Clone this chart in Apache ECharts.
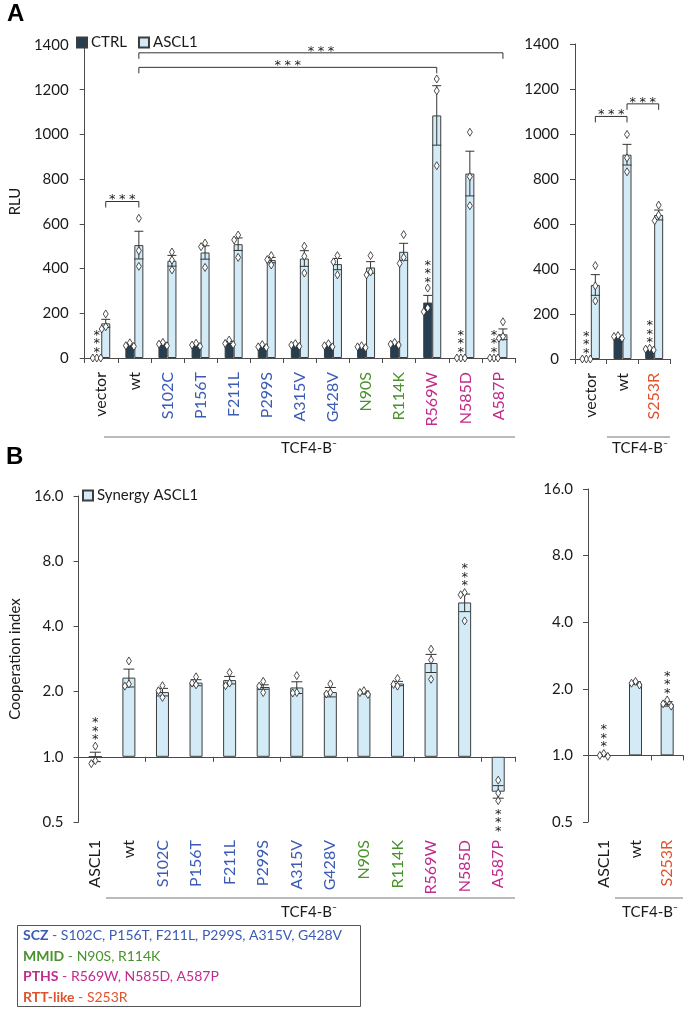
<!DOCTYPE html>
<html><head><meta charset="utf-8">
<script src="https://cdn.jsdelivr.net/npm/echarts@6/dist/echarts.min.js"></script>
<style>html,body{margin:0;padding:0;background:#fff}#c{width:690px;height:1011px}</style>
</head><body><div id="c"></div><script>
// ---------- categories ----------
const catsA  = ['vector','wt','S102C','P156T','F211L','P299S','A315V','G428V','N90S','R114K','R569W','N585D','A587P'];
const catsA2 = ['vector','wt','S253R'];
const catsB  = ['ASCL1','wt','S102C','P156T','F211L','P299S','A315V','G428V','N90S','R114K','R569W','N585D','A587P'];
const catsB2 = ['ASCL1','wt','S253R'];
// mutation groups
const sczMut  = ['S102C','P156T','F211L','P299S','A315V','G428V'];
const mmidMut = ['N90S','R114K'];
const pthsMut = ['R569W','N585D','A587P'];
const rttMut  = ['S253R'];
// ---------- panel A (RLU) ----------
const ctrlA     = [0,58,62,58,68,52,58,56,50,63,248,0,0];
const ctrlA_se  = [0,5,5,4,6,4,4,4,3,4,32,0,0];
const ctrlA_pts = [[0,0,0],[68,55,52],[70,62,55],[66,58,52],[80,65,60],[60,50,47],[64,58,52],[64,55,50],[55,50,46],[70,62,58],[313,224,207],[0,0,0],[0,0,0]];
const ctrlA_sig = [1,0,0,0,0,0,0,0,0,0,1,1,1];
const asclA     = [155,505,435,472,509,438,445,420,405,475,1085,825,106];
const asclA_se  = [18,62,24,30,28,12,35,25,26,38,133,100,24];
const asclA_pts = [[197,140,130],[625,480,410],[474,438,394],[514,498,405],[550,528,450],[458,440,416],[500,455,380],[458,430,372],[458,385,372],[552,450,423],[1248,1195,860],[1010,811,681],[162,96,88]];
const asclA_sig = [0,0,0,0,0,0,0,0,0,0,0,0,0];
const ctrlA2     = [0,97,44];
const ctrlA2_se  = [0,4,3];
const ctrlA2_pts = [[0,0,0],[104,100,92],[48,44,40]];
const ctrlA2_sig = [1,0,1];
const asclA2     = [329,908,640];
const asclA2_se  = [46,46,22];
const asclA2_pts = [[415,325,258],[998,894,832],[684,640,615]];
const asclA2_sig = [0,0,0];
// significance brackets: [fromCategory, fromSeries(0 CTRL / 1 ASCL1), toCategory, toSeries, level]
const bracketsA  = [[0,1,1,1,700],[1,1,10,1,1300],[1,1,12,1,1365]];
const bracketsA2 = [[0,1,1,1,1078],[1,1,2,1,1134]];
// ---------- panel B (cooperation index) ----------
const synB     = [1.0,2.32,1.99,2.2,2.26,2.1,2.09,1.99,1.98,2.18,2.71,5.16,0.69];
const synB_se  = [0.05,0.22,0.08,0.07,0.09,0.05,0.13,0.1,0.03,0.05,0.26,0.48,0.046];
const synB_pts = [[1.12,0.96,0.93],[2.77,2.17,2.12],[2.13,2.02,1.88],[2.34,2.19,2.15],[2.45,2.19,2.13],[2.23,2.12,1.98],[2.37,1.98,1.97],[2.17,1.98,1.95],[2.02,1.98,1.94],[2.3,2.16,2.12],[3.14,2.8,2.28],[5.73,5.6,4.24],[0.78,0.68,0.627]];
const synB_sig = [1,0,0,0,0,0,0,0,0,0,0,1,-1];
const synB2     = [1.0,2.12,1.71];
const synB2_se  = [0.01,0.03,0.04];
const synB2_pts = [[1.02,1.0,0.99],[2.16,2.12,2.08],[1.78,1.71,1.67]];
const synB2_sig = [1,0,1];

// ---------- styling ----------
const FONT = 'Lato';
const STAR_FONT = 'DejaVu Sans';
const C_CTRL = '#263e51', C_ASCL = '#d3ebf7', C_EDGE = '#3d3d3d';
const groupColor = {SCZ:'#3b5bb5', MMID:'#4a922c', PTHS:'#c12b8d', RTT:'#e0522b'};
const groupOf = {};
sczMut.forEach(m=>groupOf[m]='SCZ'); mmidMut.forEach(m=>groupOf[m]='MMID');
pthsMut.forEach(m=>groupOf[m]='PTHS'); rttMut.forEach(m=>groupOf[m]='RTT');
const labelColor = v => groupOf[v] ? groupColor[groupOf[v]] : '#1a1a1a';

const BW_A = 9, BW_B = 13;
const gA  = {left:71, top:45, width:444, height:313};
const gA2 = {left:575, top:44, width:95, height:315};
const gB  = {left:72, top:496, width:443, height:326};
const gB2 = {left:588, top:489, width:95, height:333};
const LOG_MIN = 0.5, LOG_MAX = 16;
const oneFrac = (Math.log2(1)-Math.log2(LOG_MIN))/(Math.log2(LOG_MAX)-Math.log2(LOG_MIN));

function star(x, yc){
  return {type:'text', x:x, y:yc+3.5, style:{text:'*', fontSize:13, fontFamily:STAR_FONT, fill:'#222', align:'center', verticalAlign:'middle'}};
}
function decor(mean, se, pts, sig, xShift, capW, starGap){
  return function(params, api){
    const i = api.value(0);
    const m = mean[i];
    const c = api.coord([i, m]);
    const x = c[0] + xShift;
    const kids = [];
    const ls = {stroke:'#333', lineWidth:1};
    let topY = Infinity, botY = -Infinity;
    if (se[i] > 0){
      const yt = api.coord([i, m+se[i]])[1], yb = api.coord([i, m-se[i]])[1];
      kids.push({type:'line', shape:{x1:x,y1:yt,x2:x,y2:yb}, style:ls});
      kids.push({type:'line', shape:{x1:x-capW/2,y1:yt,x2:x+capW/2,y2:yt}, style:ls});
      kids.push({type:'line', shape:{x1:x-capW/2,y1:yb,x2:x+capW/2,y2:yb}, style:ls});
      topY = Math.min(topY, yt); botY = Math.max(botY, yb);
    }
    const ys = pts[i].map(v=>api.coord([i, v])[1]).sort((a,b)=>a-b);
    const placed = [], dx = 4, dh = 7;
    ys.forEach(y=>{
      for (const o of [0,-1,1,-2,2]){
        const px = x + o*dx;
        if (!placed.some(p=>Math.abs(p[0]-px) < dx*0.9 && Math.abs(p[1]-y) < dh)){ placed.push([px,y]); break; }
      }
    });
    placed.forEach(p=>{
      topY = Math.min(topY, p[1]); botY = Math.max(botY, p[1]);
      kids.push({type:'polygon', shape:{points:[[p[0],p[1]-4],[p[0]+2.5,p[1]],[p[0],p[1]+4],[p[0]-2.5,p[1]]]}, style:{fill:'#fff', stroke:'#222', lineWidth:0.8}});
    });
    if (sig[i] === 1){
      for (let k=0;k<3;k++) kids.push(star(x, topY - starGap - k*8.5));
    } else if (sig[i] === -1){
      for (let k=0;k<3;k++) kids.push(star(x, botY + starGap + k*8.5));
    }
    return {type:'group', children:kids};
  };
}
function bracketRender(list, bw){
  return function(params, api){
    const b = list[api.value(0)];
    const off = s => (s===0 ? -bw/2 : bw/2);
    const x1 = api.coord([b[0], b[4]])[0] + off(b[1]);
    const x2 = api.coord([b[2], b[4]])[0] + off(b[3]);
    const y = api.coord([b[0], b[4]])[1];
    const kids = [{type:'polyline', shape:{points:[[x1,y+6],[x1,y],[x2,y],[x2,y+6]]}, style:{stroke:'#333', lineWidth:1, fill:null}}];
    const xm = (x1+x2)/2;
    [-10,0,10].forEach(d=>kids.push(star(xm+d, y-5)));
    return {type:'group', children:kids};
  };
}

const axisLineStyle = {color:'#4a4a4a', width:1};
function catAxis(grid, data, opt){
  return Object.assign({
    type:'category', gridIndex:grid, data:data, position:'bottom',
    axisLine:{show:true, onZero:false, lineStyle:axisLineStyle},
    axisTick:{show:true, length:5, lineStyle:axisLineStyle},
    axisLabel:{show:true, rotate:90, margin:14, fontSize:16, fontFamily:FONT, color:labelColor},
    splitLine:{show:false}
  }, opt||{});
}
function linAxis(grid, name){
  return {type:'value', gridIndex:grid, min:0, max:1400, interval:200,
    name:name||'', nameLocation:'middle', nameRotate:90, nameGap:48,
    nameTextStyle:{fontSize:15, fontFamily:FONT, color:'#1a1a1a'},
    axisLine:{show:true, lineStyle:axisLineStyle}, axisTick:{show:true, length:5, lineStyle:axisLineStyle},
    axisLabel:{fontSize:15, fontFamily:FONT, color:'#1a1a1a', margin:16, formatter:v=>String(v)}, splitLine:{show:false}};
}
function logAxis(grid, name){
  return {type:'log', logBase:2, gridIndex:grid, min:LOG_MIN, max:LOG_MAX,
    name:name||'', nameLocation:'middle', nameRotate:90, nameGap:47,
    nameTextStyle:{fontSize:15, fontFamily:FONT, color:'#1a1a1a'},
    axisLine:{show:true, lineStyle:axisLineStyle}, axisTick:{show:true, length:5, lineStyle:axisLineStyle},
    axisLabel:{fontSize:15, fontFamily:FONT, color:'#1a1a1a', margin:15, formatter:v=>Number(v).toFixed(1)}, splitLine:{show:false}};
}

const barStyle = col => ({color:col, borderColor:C_EDGE, borderWidth:1});
const idx = arr => arr.map((_,i)=>[i]);

const option = {
  animation:false,
  textStyle:{fontFamily:FONT},
  grid:[gA, gA2, gB, gB2],
  legend:[
    {data:['CTRL','ASCL1'], left:71, top:30, itemWidth:10, itemHeight:10, itemGap:11, selectedMode:false, icon:'rect',
     textStyle:{fontSize:15, fontFamily:FONT, color:'#1a1a1a', padding:[0,0,0,-1]}},
    {data:['Synergy ASCL1'], left:77, top:483, itemWidth:10, itemHeight:10, selectedMode:false, icon:'rect',
     textStyle:{fontSize:15, fontFamily:FONT, color:'#1a1a1a', padding:[0,0,0,-1]}}
  ],
  xAxis:[
    catAxis(0, catsA),
    catAxis(1, catsA2),
    catAxis(2, catsB, {offset:-gB.height*oneFrac, axisLabel:{show:false}}),
    catAxis(2, catsB, {axisLine:{show:false}, axisTick:{show:false}, axisLabel:{show:true, rotate:90, margin:18, fontSize:16, fontFamily:FONT, color:labelColor}}),
    catAxis(3, catsB2, {offset:-gB2.height*oneFrac, axisLabel:{show:false}}),
    catAxis(3, catsB2, {axisLine:{show:false}, axisTick:{show:false}, axisLabel:{show:true, rotate:90, margin:18, fontSize:16, fontFamily:FONT, color:labelColor}})
  ],
  yAxis:[ linAxis(0,'RLU'), linAxis(1), logAxis(2,'Cooperation index'), logAxis(3) ],
  series:[
    {type:'bar', name:'CTRL', xAxisIndex:0, yAxisIndex:0, data:ctrlA, barWidth:BW_A, barGap:'0%', itemStyle:barStyle(C_CTRL)},
    {type:'bar', name:'ASCL1', xAxisIndex:0, yAxisIndex:0, data:asclA, barWidth:BW_A, barGap:'0%', itemStyle:barStyle(C_ASCL)},
    {type:'bar', name:'CTRL', xAxisIndex:1, yAxisIndex:1, data:ctrlA2, barWidth:BW_A, barGap:'0%', itemStyle:barStyle(C_CTRL)},
    {type:'bar', name:'ASCL1', xAxisIndex:1, yAxisIndex:1, data:asclA2, barWidth:BW_A, barGap:'0%', itemStyle:barStyle(C_ASCL)},
    {type:'bar', name:'Synergy ASCL1', xAxisIndex:2, yAxisIndex:2, data:synB, barWidth:BW_B, itemStyle:barStyle(C_ASCL)},
    {type:'bar', name:'Synergy ASCL1', xAxisIndex:4, yAxisIndex:3, data:synB2, barWidth:BW_B, itemStyle:barStyle(C_ASCL)},
    {type:'custom', xAxisIndex:0, yAxisIndex:0, z:10, data:idx(catsA), renderItem:decor(ctrlA, ctrlA_se, ctrlA_pts, ctrlA_sig, -BW_A/2, BW_A, 9)},
    {type:'custom', xAxisIndex:0, yAxisIndex:0, z:10, data:idx(catsA), renderItem:decor(asclA, asclA_se, asclA_pts, asclA_sig, BW_A/2, BW_A, 9)},
    {type:'custom', xAxisIndex:1, yAxisIndex:1, z:10, data:idx(catsA2), renderItem:decor(ctrlA2, ctrlA2_se, ctrlA2_pts, ctrlA2_sig, -BW_A/2, BW_A, 9)},
    {type:'custom', xAxisIndex:1, yAxisIndex:1, z:10, data:idx(catsA2), renderItem:decor(asclA2, asclA2_se, asclA2_pts, asclA2_sig, BW_A/2, BW_A, 9)},
    {type:'custom', xAxisIndex:2, yAxisIndex:2, z:10, data:idx(catsB), renderItem:decor(synB, synB_se, synB_pts, synB_sig, 0, 11, 10)},
    {type:'custom', xAxisIndex:4, yAxisIndex:3, z:10, data:idx(catsB2), renderItem:decor(synB2, synB2_se, synB2_pts, synB2_sig, 0, 11, 10)},
    {type:'custom', xAxisIndex:0, yAxisIndex:0, z:10, data:idx(bracketsA), renderItem:bracketRender(bracketsA, BW_A)},
    {type:'custom', xAxisIndex:1, yAxisIndex:1, z:10, data:idx(bracketsA2), renderItem:bracketRender(bracketsA2, BW_A)}
  ],
  graphic:[]
};

const gl = {stroke:'#777', lineWidth:1};
const tcf = 'TCF4-B\u207B';
const tcfStyle = (x,y)=>({type:'text', x:x, y:y, style:{text:tcf, fontSize:15, fontFamily:FONT, fill:'#1a1a1a', align:'center', verticalAlign:'middle'}});
const legendLines = [
  ['SCZ', sczMut, groupColor.SCZ], ['MMID', mmidMut, groupColor.MMID],
  ['PTHS', pthsMut, groupColor.PTHS], ['RTT-like', rttMut, groupColor.RTT]
];
option.graphic = [
  {type:'text', x:7, y:2, style:{text:'A', fontSize:24, fontWeight:'bold', fontFamily:'Liberation Sans', fill:'#000'}},
  {type:'text', x:6, y:445, style:{text:'B', fontSize:24, fontWeight:'bold', fontFamily:'Liberation Sans', fill:'#000'}},
  {type:'line', shape:{x1:104,y1:437,x2:515,y2:437}, style:gl},
  tcfStyle(309,448),
  {type:'line', shape:{x1:607,y1:437,x2:670,y2:437}, style:gl},
  tcfStyle(640,448),
  {type:'line', shape:{x1:106,y1:898,x2:515,y2:898}, style:gl},
  tcfStyle(309,912),
  {type:'line', shape:{x1:615,y1:898,x2:683,y2:898}, style:gl},
  tcfStyle(650,912),
  {type:'rect', shape:{x:17.5,y:925.5,width:343,height:81}, style:{fill:'#fff', stroke:'#555', lineWidth:1}}
].concat(legendLines.map((L,k)=>({type:'text', x:23, y:935.5+k*20.7,
  style:{text:'{b|'+L[0]+'}{n| - '+L[1].join(', ')+'}', verticalAlign:'middle', fontSize:14, fontFamily:FONT,
    rich:{b:{fontWeight:'bold', fill:L[2], fontSize:14, fontFamily:FONT}, n:{fill:L[2], fontSize:14, fontFamily:FONT}}}})));

const chart = echarts.init(document.getElementById('c'), null, {renderer:'canvas'});
chart.setOption(option);
</script></body></html>
